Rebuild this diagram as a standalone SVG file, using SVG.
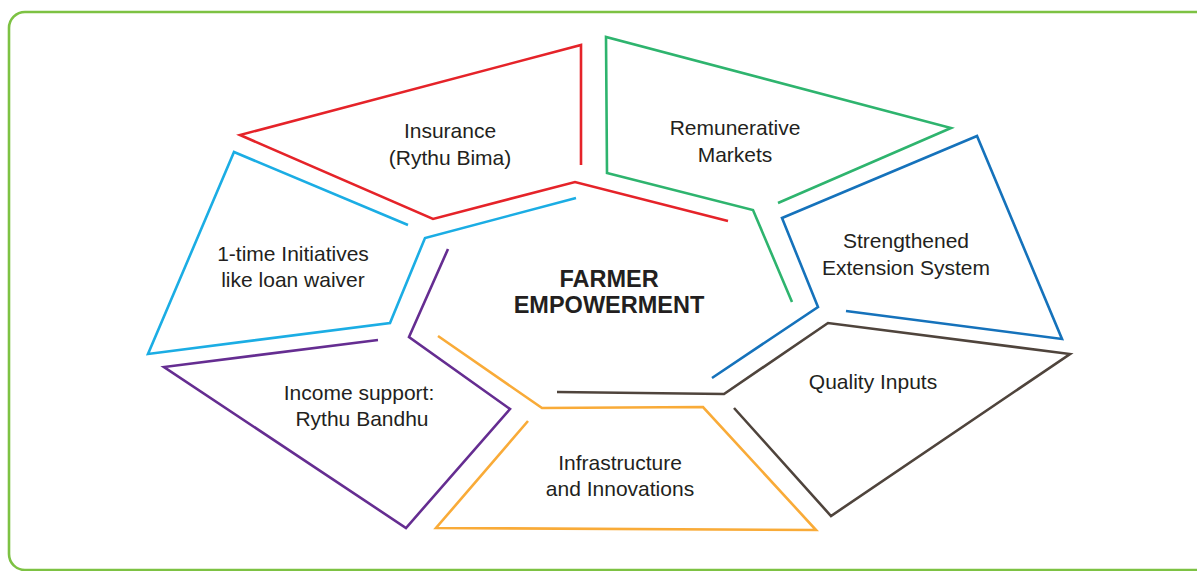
<svg xmlns="http://www.w3.org/2000/svg" width="1197" height="571" viewBox="0 0 1197 571">
  <style>
    .seg { fill: none; stroke-width: 2.6; stroke-linejoin: miter; stroke-linecap: butt; }
    .lbl { font-family: "Liberation Sans", Arial, sans-serif; font-size: 21px; fill: #231f20; text-anchor: middle; }
    .hub { font-family: "Liberation Sans", Arial, sans-serif; font-size: 23.5px; font-weight: bold; fill: #231f20; text-anchor: middle; }
  </style>
  <rect width="1197" height="571" fill="#ffffff"/>
  <!-- outer frame -->
  <rect x="9" y="12" width="1210" height="558" rx="16" ry="16" fill="none" stroke="#7dc243" stroke-width="2.6"/>

  <g id="connectors"></g>

  <g id="hub">
    <text class="hub" x="609" y="287">FARMER</text>
    <text class="hub" x="609" y="313">EMPOWERMENT</text>
  </g>

  <g id="insurance">
    <polyline class="seg" stroke="#e52329" points="581,165 581,45 240,135 433,219 575,182 728,221"/>
    <text class="lbl" x="450" y="138">Insurance</text>
    <text class="lbl" x="450" y="165">(Rythu Bima)</text>
  </g>

  <g id="markets">
    <polyline class="seg" stroke="#2eb46e" points="778,203 951,128 606,37 607,173 753,210 792,302"/>
    <text class="lbl" x="735" y="135">Remunerative</text>
    <text class="lbl" x="735" y="162">Markets</text>
  </g>

  <g id="extension">
    <polyline class="seg" stroke="#1572bb" points="846,311 1062,339 977,136 782,218 818,307 712,378"/>
    <text class="lbl" x="906" y="248">Strengthened</text>
    <text class="lbl" x="906" y="275">Extension System</text>
  </g>

  <g id="inputs">
    <polyline class="seg" stroke="#4f443c" points="557,392 724,394 828,323 1070,354 831,516 734,408"/>
    <text class="lbl" x="873" y="389">Quality Inputs</text>
  </g>

  <g id="infrastructure">
    <polyline class="seg" stroke="#f9ab38" points="438,336 542,408 703,407 816,530 436,528 528,421"/>
    <text class="lbl" x="620" y="470">Infrastructure</text>
    <text class="lbl" x="620" y="496">and Innovations</text>
  </g>

  <g id="income-support">
    <polyline class="seg" stroke="#652d91" points="448,249 409,337 510,409 406,528 164,367 378,340"/>
    <text class="lbl" x="359" y="400">Income support:</text>
    <text class="lbl" x="362" y="426">Rythu Bandhu</text>
  </g>

  <g id="one-time">
    <polyline class="seg" stroke="#1badE4" points="408,225 234,152 148,354 390,323 425,238 576,198"/>
    <text class="lbl" x="293" y="261">1-time Initiatives</text>
    <text class="lbl" x="293" y="287">like loan waiver</text>
  </g>
</svg>
